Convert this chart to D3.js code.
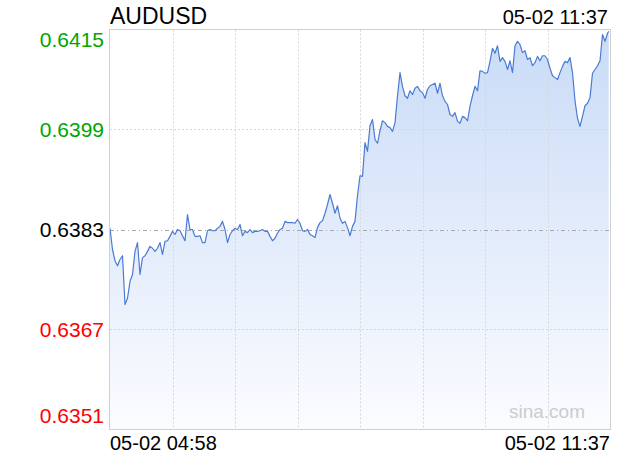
<!DOCTYPE html>
<html><head><meta charset="utf-8">
<script src="https://cdn.jsdelivr.net/npm/d3@7"></script>
<style>body{margin:0;background:#fff}svg{display:block;font-family:"Liberation Sans",Arial,Helvetica,sans-serif}</style>
</head><body><svg id="c" width="620" height="460"></svg>
<script>
// ---- data ----
const symbol = "AUDUSD";
const dateLabel = "05-02";
const startTime = "04:58";   // first sample
const endTime = "11:37";     // last sample
const stepMinutes = 2;       // sampling interval of the prices below
const prevClose = 0.6383;
const yTicks = [0.6415, 0.6399, 0.6383, 0.6367, 0.6351];
const xTickLabels = ["05-02 04:58", "05-02 11:37"];
const prices = [
0.63832,0.63798,0.63780,0.63772,0.63782,0.63788,0.63710,0.63720,0.63747,0.63758,
0.63795,0.63809,0.63758,0.63785,0.63788,0.63795,0.63803,0.63800,0.63795,0.63800,
0.63809,0.63790,0.63811,0.63812,0.63819,0.63827,0.63822,0.63830,0.63828,0.63820,
0.63812,0.63854,0.63830,0.63830,0.63819,0.63819,0.63820,0.63809,0.63809,0.63828,
0.63830,0.63828,0.63828,0.63832,0.63835,0.63843,0.63830,0.63809,0.63822,0.63828,
0.63832,0.63830,0.63838,0.63820,0.63827,0.63825,0.63830,0.63825,0.63827,0.63827,
0.63828,0.63830,0.63827,0.63827,0.63819,0.63812,0.63816,0.63824,0.63830,0.63832,
0.63843,0.63841,0.63841,0.63841,0.63840,0.63846,0.63840,0.63828,0.63827,0.63830,
0.63822,0.63820,0.63817,0.63833,0.63841,0.63844,0.63856,0.63870,0.63886,0.63872,
0.63856,0.63868,0.63848,0.63840,0.63843,0.63833,0.63820,0.63835,0.63843,0.63884,
0.63916,0.63915,0.63969,0.63955,0.63996,0.64006,0.63974,0.63968,0.63988,0.64004,
0.64001,0.63995,0.63993,0.63987,0.64001,0.64044,0.64081,0.64059,0.64044,0.64040,
0.64052,0.64046,0.64056,0.64059,0.64052,0.64049,0.64040,0.64054,0.64060,0.64062,
0.64064,0.64048,0.64064,0.64044,0.64035,0.64030,0.64014,0.64011,0.64017,0.64003,
0.64000,0.64011,0.64009,0.64004,0.64027,0.64044,0.64059,0.64052,0.64084,0.64083,
0.64080,0.64081,0.64099,0.64120,0.64112,0.64124,0.64099,0.64105,0.64099,0.64086,
0.64100,0.64081,0.64124,0.64131,0.64126,0.64113,0.64116,0.64102,0.64105,0.64092,
0.64097,0.64107,0.64100,0.64108,0.64108,0.64102,0.64088,0.64076,0.64073,0.64070,
0.64081,0.64091,0.64099,0.64097,0.64105,0.64081,0.64036,0.64008,0.63995,0.64011,
0.64028,0.64032,0.64041,0.64080,0.64086,0.64092,0.64100,0.64142,0.64131,0.64144
];
const lastPrice = 0.64147;   // at endTime

// ---- layout ----
const svg = d3.select("#c");
const L = 110, R = 610, T = 29.5, B = 429.5;
const toMin = s => { const [h, m] = s.split(":").map(Number); return h * 60 + m; };
const t0 = toMin(startTime), t1 = toMin(endTime);
const data = prices.map((p, i) => ({ t: t0 + i * stepMinutes, p }));
data.push({ t: t1, p: lastPrice });

const x = d3.scaleLinear().domain([t0, t0 + 400]).range([L, R]);
const y = d3.scaleLinear().domain([yTicks[4], yTicks[0]]).range([B, T]);

const defs = svg.append("defs");
const g = defs.append("linearGradient").attr("id", "fillg")
  .attr("gradientUnits", "userSpaceOnUse").attr("x1", 0).attr("y1", T).attr("x2", 0).attr("y2", B);
g.append("stop").attr("offset", 0).attr("stop-color", "#c9dbf7");
g.append("stop").attr("offset", 1).attr("stop-color", "#fbfcff");

// area
svg.append("path").datum(data)
  .attr("d", d3.area().x(d => x(d.t)).y0(B).y1(d => y(d.p)))
  .attr("fill", "url(#fillg)");

// vertical grid
const vTicks = d3.range(1, 8).map(k => t0 + k * 50);
svg.append("g").selectAll("line").data(vTicks).join("line")
  .attr("x1", d => Math.round(x(d)) + 0.5).attr("x2", d => Math.round(x(d)) + 0.5)
  .attr("y1", T).attr("y2", B)
  .attr("stroke", "#d6d6d6").attr("stroke-dasharray", "2,2");

// horizontal grid
svg.append("g").selectAll("line").data([yTicks[1], yTicks[3]]).join("line")
  .attr("x1", L).attr("x2", R)
  .attr("y1", d => Math.round(y(d)) + 0.5).attr("y2", d => Math.round(y(d)) + 0.5)
  .attr("stroke", "#d6d6d6").attr("stroke-dasharray", "2,2");
svg.append("line")
  .attr("x1", L).attr("x2", R)
  .attr("y1", Math.round(y(prevClose)) + 0.5).attr("y2", Math.round(y(prevClose)) + 0.5)
  .attr("stroke", "#a8a8a8").attr("stroke-dasharray", "4,3,1,3");

// price line
svg.append("path").datum(data)
  .attr("d", d3.line().x(d => x(d.t)).y(d => y(d.p)))
  .attr("fill", "none").attr("stroke", "#4a7bd3").attr("stroke-width", 1.2)
  .attr("stroke-linejoin", "round");

// border
svg.append("rect").attr("x", L - 0.5).attr("y", T).attr("width", R - L + 1).attr("height", B - T)
  .attr("fill", "none").attr("stroke", "#d0d0d0");

// watermark
svg.append("text").attr("x", 585).attr("y", 418).attr("text-anchor", "end")
  .attr("font-size", 19).attr("fill", "#cccccc").text("sina.com");

// y labels
const yColor = v => v > prevClose ? "#00a600" : (v < prevClose ? "#ff0000" : "#000000");
svg.append("g").selectAll("text").data(yTicks).join("text")
  .attr("x", 104).attr("text-anchor", "end")
  .attr("y", (d, i) => i === 0 ? y(d) + 17.5 : (i === 4 ? y(d) - 7 : y(d) + 7.5))
  .attr("font-size", 21).attr("fill", yColor)
  .text(d => d.toFixed(4));

// titles
svg.append("text").attr("x", 110).attr("y", 24).attr("font-size", 23).attr("fill", "#000").text(symbol);
svg.append("text").attr("x", 608).attr("y", 24).attr("text-anchor", "end").attr("font-size", 20)
  .attr("fill", "#000").text(dateLabel + " " + endTime);

// x labels
svg.append("text").attr("x", 110).attr("y", 450).attr("font-size", 20).attr("fill", "#000").text(xTickLabels[0]);
svg.append("text").attr("x", 610).attr("y", 450).attr("text-anchor", "end").attr("font-size", 20)
  .attr("fill", "#000").text(xTickLabels[1]);
</script></body></html>
